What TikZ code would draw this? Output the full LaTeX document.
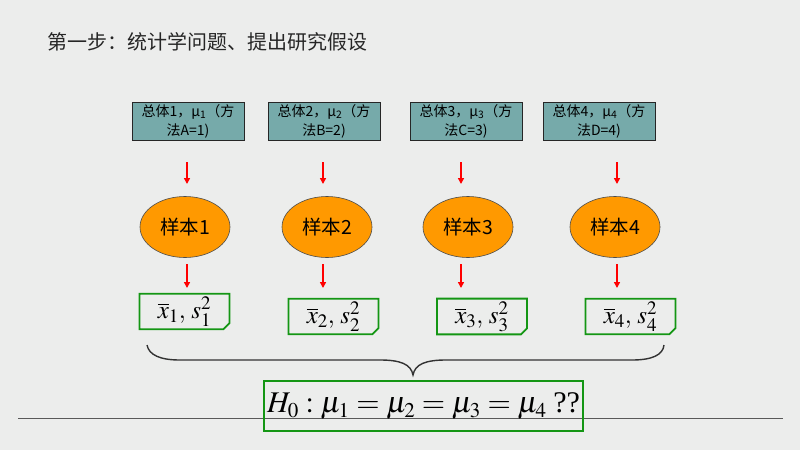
\documentclass[tikz,border=0pt]{standalone}
\usepackage{mathptmx}
\usepackage{fontspec}
\newfontfamily\cjk{Noto Sans CJK SC}
\newfontfamily\tms{Liberation Serif}
\DeclareMathSizes{25}{25}{19}{15}
\DeclareMathSizes{30}{30}{21}{16}
\usetikzlibrary{arrows.meta,shapes.geometric,shapes.misc}
\definecolor{bgc}{RGB}{236,237,236}
\definecolor{tealbox}{RGB}{118,170,170}
\definecolor{orng}{RGB}{255,153,0}
\definecolor{gboxc}{RGB}{20,150,20}
\tikzset{
  popbox/.style={draw=black!85, line width=0.8pt, fill=tealbox, minimum width=112, minimum height=38, inner sep=0pt, align=center, font=\cjk\fontsize{14}{19}\selectfont},
  sampell/.style={ellipse, draw=black!70, line width=0.6pt, fill=orng, minimum width=90, minimum height=61, inner sep=0pt, font=\cjk\fontsize{19.5}{19.5}\selectfont},
  statbox/.style={chamfered rectangle, chamfered rectangle corners=south east, chamfered rectangle xsep=3pt, chamfered rectangle ysep=3pt, draw=gboxc, line width=1.8pt, minimum width=90, minimum height=32, inner sep=0pt, font=\fontsize{25}{25}\selectfont},
  redarr/.style={draw=red, line width=1.6pt, -{Triangle[length=6pt,width=6pt]}},
  hbox/.style={draw=gboxc, line width=1.8pt, minimum width=319, minimum height=50, inner sep=0pt, font=\fontsize{30}{30}\selectfont},
}
\begin{document}
\begin{tikzpicture}[x=1pt,y=-1pt]
\fill[bgc] (0,0) rectangle (800,450);
\useasboundingbox (0,0) rectangle (800,450);
% base line
\draw[black!65, line width=0.9pt] (18,418) -- (783,418);
% title
\node[anchor=west, inner sep=0pt, font=\cjk\fontsize{20}{20}\selectfont, text=black!85] (title) at (47,42) {第一步：统计学问题、提出研究假设};
% population boxes
\node[popbox] (t1) at (188,121) {总体1，μ\textsubscript{1}（方\\法A=1)};
\node[popbox] (t2) at (324,121) {总体2，μ\textsubscript{2}（方\\法B=2)};
\node[popbox] (t3) at (466,121) {总体3，μ\textsubscript{3}（方\\法C=3)};
\node[popbox] (t4) at (599,121) {总体4，μ\textsubscript{4}（方\\法D=4)};
% samples
\node[sampell] (e1) at (185,227) {样本1};
\node[sampell] (e2) at (327,227) {样本2};
\node[sampell] (e3) at (468,227) {样本3};
\node[sampell] (e4) at (615,227) {样本4};
% stat boxes
\node[statbox] (b1) at (184.5,311.5) {$\overline{x}_1,\, s_1^2$};
\node[statbox] (b2) at (333.5,316.5) {$\overline{x}_2,\, s_2^2$};
\node[statbox] (b3) at (482,316.5) {$\overline{x}_3,\, s_3^2$};
\node[statbox] (b4) at (630.5,316.5) {$\overline{x}_4,\, s_4^2$};
% hypothesis
\node[hbox] (h) at (423.5,406) {$H_0:\mu_1=\mu_2=\mu_3=\mu_4\;$\tms ??};
% arrow levels
\coordinate (ra) at (0,162);
\coordinate (rb) at (0,184);
\coordinate (rc) at (0,264);
\coordinate (rd) at (0,288);
\foreach \i/\xx in {1/187,2/323,3/461,4/617}{
  \draw[redarr] (\xx,0 |- ra) -- (\xx,0 |- rb);
  \draw[redarr] (\xx,0 |- rc) -- (\xx,0 |- rd);
}
% brace
\draw[black!80, line width=1.4pt] (147,345) .. controls (149,355) and (160,360) .. (180,360) -- (380,360) .. controls (400,360) and (411,364) .. (413,375) .. controls (415,364) and (426,360) .. (446,360) -- (632,360) .. controls (652,360) and (663,355) .. (664,345);
\end{tikzpicture}
\end{document}
